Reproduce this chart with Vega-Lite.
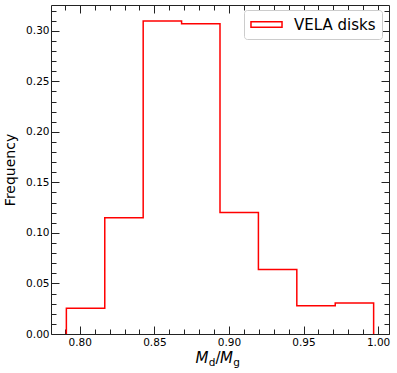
{
  "$schema": "https://vega.github.io/schema/vega-lite/v6.json",
  "width": 338,
  "height": 329,
  "autosize": "none",
  "padding": {"left": 51, "top": 5, "right": 8, "bottom": 39},
  "background": "white",
  "config": {
    "view": {"stroke": null},
    "font": "DejaVu Sans",
    "axis": {
      "grid": false,
      "labelFont": "DejaVu Sans",
      "labelFontSize": 10.5,
      "labelColor": "#000000",
      "titleFont": "DejaVu Sans",
      "titleColor": "#000000",
      "titleFontWeight": "normal",
      "domainColor": "#222222",
      "domainWidth": 1,
      "tickColor": "#222222",
      "tickWidth": 1
    }
  },
  "data": {
    "values": [
      {"i": 0, "x": 0.791, "freq": 0},
      {"i": 1, "x": 0.791, "freq": 0.0254},
      {"i": 2, "x": 0.81675, "freq": 0.115},
      {"i": 3, "x": 0.8425, "freq": 0.3096},
      {"i": 4, "x": 0.86825, "freq": 0.307},
      {"i": 5, "x": 0.894, "freq": 0.1202},
      {"i": 6, "x": 0.91975, "freq": 0.0639},
      {"i": 7, "x": 0.9455, "freq": 0.028},
      {"i": 8, "x": 0.97125, "freq": 0.0306},
      {"i": 9, "x": 0.997, "freq": 0.0306},
      {"i": 10, "x": 0.997, "freq": 0}
    ]
  },
  "resolve": {"axis": {"x": "independent", "y": "independent"}},
  "layer": [
    {
      "mark": {"type": "line", "interpolate": "step-after", "strokeWidth": 1.5},
      "encoding": {
        "x": {"field": "x", "type": "quantitative",
          "scale": {"domain": [0.7807, 1.0073], "nice": false, "zero": false},
          "axis": {"orient": "bottom", "values": [0.8, 0.85, 0.9, 0.95, 1.0], "format": ".2f",
            "tickSize": -8, "labelPadding": 11, "labelFlush": false,
            "title": "M", "titleFontStyle": "italic", "titleFontSize": 15,
            "titleAnchor": "start", "titleAlign": "left", "titleBaseline": "alphabetic",
            "titleX": 144, "titleY": 28}},
        "y": {"field": "freq", "type": "quantitative",
          "scale": {"domain": [0, 0.3255], "nice": false, "zero": false},
          "axis": {"orient": "left", "values": [0, 0.05, 0.1, 0.15, 0.2, 0.25, 0.3], "format": ".2f",
            "tickSize": -8, "labelPadding": 10, "labelFlush": false,
            "title": "Frequency", "titleFontSize": 14, "titlePadding": 8}},
        "order": {"field": "i", "type": "quantitative"},
        "color": {"datum": "VELA disks", "type": "nominal",
          "scale": {"range": ["#ff0000"]},
          "legend": {
            "title": null, "orient": "none", "legendX": 193, "legendY": 5,
            "symbolType": "M-2.07,-0.367H2.07V0.367H-2.07Z", "symbolSize": 225, "symbolOffset": 8,
            "symbolStrokeWidth": 1.5, "symbolFillColor": "transparent", "symbolStrokeColor": "#ff0000",
            "labelFontSize": 15, "labelFont": "DejaVu Sans", "labelColor": "#000000", "labelOffset": 19,
            "padding": 6, "fillColor": "white", "strokeColor": "#cccccc", "cornerRadius": 3
          }}
      }
    },
    {
      "mark": {"type": "point", "opacity": 0, "size": 0},
      "encoding": {
        "x": {"field": "x", "type": "quantitative",
          "axis": {"orient": "bottom", "values": [0.79,0.8,0.81,0.82,0.83,0.84,0.85,0.86,0.87,0.88,0.89,0.9,0.91,0.92,0.93,0.94,0.95,0.96,0.97,0.98,0.99,1.0],
            "tickSize": -5, "labels": false, "domain": false,
            "title": "d", "titleFontSize": 10.5, "titleAnchor": "start", "titleAlign": "left", "titleBaseline": "alphabetic",
            "titleX": 157.3, "titleY": 31}},
        "y": {"field": "freq", "type": "quantitative",
          "axis": {"orient": "left", "values": [0.01,0.02,0.03,0.04,0.05,0.06,0.07,0.08,0.09,0.1,0.11,0.12,0.13,0.14,0.15,0.16,0.17,0.18,0.19,0.2,0.21,0.22,0.23,0.24,0.25,0.26,0.27,0.28,0.29,0.3,0.31,0.32],
            "tickSize": -5, "labels": false, "domain": false, "title": null}}
      }
    },
    {
      "mark": {"type": "point", "opacity": 0, "size": 0},
      "encoding": {
        "x": {"field": "x", "type": "quantitative",
          "axis": {"orient": "top", "values": [0.8, 0.85, 0.9, 0.95, 1.0], "tickSize": -8, "labels": false, "title": null}},
        "y": {"field": "freq", "type": "quantitative",
          "axis": {"orient": "right", "values": [0, 0.05, 0.1, 0.15, 0.2, 0.25, 0.3], "tickSize": -8, "labels": false, "title": null}}
      }
    },
    {
      "mark": {"type": "point", "opacity": 0, "size": 0},
      "encoding": {
        "x": {"field": "x", "type": "quantitative",
          "axis": {"orient": "top", "values": [0.79,0.8,0.81,0.82,0.83,0.84,0.85,0.86,0.87,0.88,0.89,0.9,0.91,0.92,0.93,0.94,0.95,0.96,0.97,0.98,0.99,1.0],
            "tickSize": -5, "labels": false, "domain": false, "title": null}},
        "y": {"field": "freq", "type": "quantitative",
          "axis": {"orient": "right", "values": [0.01,0.02,0.03,0.04,0.05,0.06,0.07,0.08,0.09,0.1,0.11,0.12,0.13,0.14,0.15,0.16,0.17,0.18,0.19,0.2,0.21,0.22,0.23,0.24,0.25,0.26,0.27,0.28,0.29,0.3,0.31,0.32],
            "tickSize": -5, "labels": false, "domain": false, "title": null}}
      }
    },
    {
      "mark": {"type": "point", "opacity": 0, "size": 0},
      "encoding": {
        "x": {"field": "x", "type": "quantitative",
          "axis": {"orient": "bottom", "ticks": false, "labels": false, "domain": false,
            "title": "/", "titleFontSize": 15, "titleAnchor": "start", "titleAlign": "left", "titleBaseline": "alphabetic",
            "titleX": 164, "titleY": 28}},
        "y": {"field": "freq", "type": "quantitative", "axis": null}
      }
    },
    {
      "mark": {"type": "point", "opacity": 0, "size": 0},
      "encoding": {
        "x": {"field": "x", "type": "quantitative",
          "axis": {"orient": "bottom", "ticks": false, "labels": false, "domain": false,
            "title": "M", "titleFontStyle": "italic", "titleFontSize": 15, "titleAnchor": "start", "titleAlign": "left", "titleBaseline": "alphabetic",
            "titleX": 168.5, "titleY": 28}},
        "y": {"field": "freq", "type": "quantitative", "axis": null}
      }
    },
    {
      "mark": {"type": "point", "opacity": 0, "size": 0},
      "encoding": {
        "x": {"field": "x", "type": "quantitative",
          "axis": {"orient": "bottom", "ticks": false, "labels": false, "domain": false,
            "title": "g", "titleFontSize": 10.5, "titleAnchor": "start", "titleAlign": "left", "titleBaseline": "alphabetic",
            "titleX": 181.8, "titleY": 31}},
        "y": {"field": "freq", "type": "quantitative", "axis": null}
      }
    }
  ]
}
